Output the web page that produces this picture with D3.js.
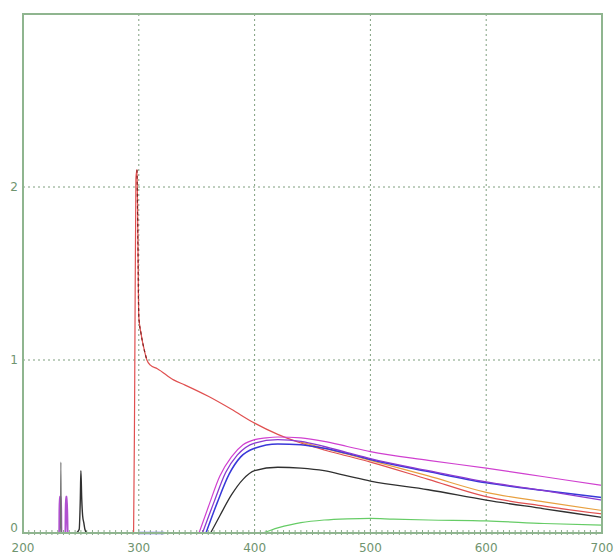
<!DOCTYPE html>
<html>
<head>
<meta charset="utf-8">
<script src="https://cdn.jsdelivr.net/npm/d3@7"></script>
<style>
  body { margin: 0; background: #fff; }
  text { font-family: "DejaVu Sans", sans-serif; }
</style>
</head>
<body>
<script>
// wavelength (nm) / absorbance
const xTicks = [200, 300, 400, 500, 600, 700];
const yTicks = [0, 1, 2];

const redX = [200, 295.5, 296.5, 297.5, 298.5, 299.2, 300, 302, 305, 307, 310, 316, 330, 340, 360, 380, 400, 420, 440, 460, 480, 500, 550, 600, 650, 700];
const redY = [0, 0, 0.9, 2.05, 2.1, 1.7, 1.25, 1.15, 1.05, 1.0, 0.97, 0.95, 0.885, 0.855, 0.79, 0.715, 0.635, 0.57, 0.52, 0.48, 0.445, 0.41, 0.31, 0.21, 0.155, 0.11];

const darkRedX = [298.5, 299.2, 300, 302, 305, 307];
const darkRedY = [2.1, 1.7, 1.25, 1.15, 1.05, 1.0];

const orangeX = [440, 460, 480, 500, 550, 600, 650, 700];
const orangeY = [0.525, 0.49, 0.455, 0.42, 0.33, 0.235, 0.18, 0.13];

const magentaX = [352, 360, 370, 380, 390, 400, 410, 420, 440, 460, 480, 500, 550, 600, 650, 700];
const magentaY = [0, 0.15, 0.33, 0.44, 0.51, 0.54, 0.55, 0.555, 0.55, 0.53, 0.5, 0.47, 0.42, 0.375, 0.325, 0.275];

const purpleX = [355, 365, 375, 385, 400, 420, 440, 460, 480, 500, 550, 600, 650, 700];
const purpleY = [0, 0.18, 0.35, 0.45, 0.52, 0.54, 0.53, 0.5, 0.465, 0.43, 0.36, 0.295, 0.245, 0.19];

const blueX = [358, 368, 378, 388, 400, 420, 440, 460, 480, 500, 550, 600, 650, 700];
const blueY = [0, 0.18, 0.34, 0.44, 0.49, 0.515, 0.51, 0.49, 0.46, 0.425, 0.355, 0.29, 0.245, 0.205];

const blackX = [362, 370, 380, 390, 400, 420, 440, 460, 480, 500, 550, 600, 650, 700];
const blackY = [0, 0.1, 0.22, 0.31, 0.36, 0.38, 0.375, 0.36, 0.33, 0.3, 0.25, 0.19, 0.14, 0.09];

const greenX = [200, 405, 420, 440, 460, 480, 500, 520, 550, 600, 650, 700];
const greenY = [0, 0, 0.03, 0.06, 0.075, 0.082, 0.085, 0.08, 0.075, 0.07, 0.055, 0.045];

const blueBaseX = [300, 322];
const blueBaseY = [0, 0];

const violetPeakX = [229, 231.3, 231.6, 232.8, 233.2, 236.6, 237, 238, 238.5];
const violetPeakY = [0, 0, 0.21, 0.21, 0, 0, 0.21, 0.21, 0];

const grayPeakX = [231, 232.3, 232.7, 233.1, 234];
const grayPeakY = [0, 0, 0.41, 0, 0];

const blackPeakX = [246, 248.5, 249.5, 250, 250.7, 251.5, 252.5, 253.5, 255];
const blackPeakY = [0, 0.02, 0.2, 0.36, 0.2, 0.1, 0.06, 0.02, 0];

const series = [
  { xs: greenX, ys: greenY, color: '#66cc66', w: 1.2 },
  { xs: blueBaseX, ys: blueBaseY, color: '#6a6ae0', w: 2.5 },
  { xs: violetPeakX, ys: violetPeakY, color: '#b050d0', w: 2 },
  { xs: grayPeakX, ys: grayPeakY, color: '#707070', w: 1.2 },
  { xs: blackPeakX, ys: blackPeakY, color: '#303030', w: 1.4 },
  { xs: blackX, ys: blackY, color: '#303030', w: 1.3 },
  { xs: orangeX, ys: orangeY, color: '#e8a040', w: 1.2 },
  { xs: redX, ys: redY, color: '#e05050', w: 1.2 },
  { xs: darkRedX, ys: darkRedY, color: '#802020', w: 1.2, dash: '3,3' },
  { xs: blueX, ys: blueY, color: '#3838d8', w: 1.5 },
  { xs: purpleX, ys: purpleY, color: '#8a3ad0', w: 1.3 },
  { xs: magentaX, ys: magentaY, color: '#d040d0', w: 1.2 }
];

const width = 615;
const height = 556;
const margin = { top: 14, right: 13, bottom: 23, left: 23 };

const svg = d3.select('body').append('svg')
    .attr('width', width)
    .attr('height', height);

const x = d3.scaleLinear().domain([200, 700]).range([margin.left, width - margin.right]);
const y = d3.scaleLinear().domain([0, 3]).range([height - margin.bottom, margin.top]);

const gridColor = '#7f9f7f';

// gridlines
svg.append('g').selectAll('line')
    .data(xTicks.slice(1, -1))
  .enter().append('line')
    .attr('x1', d => x(d)).attr('x2', d => x(d))
    .attr('y1', y(3)).attr('y2', y(0))
    .attr('stroke', gridColor).attr('stroke-width', 1).attr('stroke-dasharray', '2,3');

svg.append('g').selectAll('line')
    .data(yTicks.slice(1))
  .enter().append('line')
    .attr('x1', x(200)).attr('x2', x(700))
    .attr('y1', d => y(d)).attr('y2', d => y(d))
    .attr('stroke', gridColor).attr('stroke-width', 1).attr('stroke-dasharray', '2,3');

// minor ticks along baseline
svg.append('g').selectAll('line')
    .data(d3.range(205, 700, 5))
  .enter().append('line')
    .attr('x1', d => x(d)).attr('x2', d => x(d))
    .attr('y1', y(0) - 3).attr('y2', y(0) + 2)
    .attr('stroke', '#8aa88a').attr('stroke-width', 1);

const line = d3.line()
    .curve(d3.curveMonotoneX)
    .x(d => x(d[0]))
    .y(d => y(d[1]));

series.forEach(s => {
  svg.append('path')
      .datum(d3.zip(s.xs, s.ys))
      .attr('d', line)
      .attr('fill', 'none')
      .attr('stroke', s.color)
      .attr('stroke-width', s.w)
      .attr('stroke-dasharray', s.dash || null)
      .attr('stroke-linejoin', 'round');
});

// frame
svg.append('rect')
    .attr('x', x(200)).attr('y', y(3))
    .attr('width', x(700) - x(200)).attr('height', y(0) - y(3))
    .attr('fill', 'none')
    .attr('stroke', '#8fb58f').attr('stroke-width', 2);

// labels
svg.append('g').selectAll('text')
    .data(xTicks)
  .enter().append('text')
    .attr('x', d => x(d))
    .attr('y', y(0) + 19)
    .attr('text-anchor', 'middle')
    .attr('font-size', 12)
    .attr('fill', '#6f946f')
    .text(d => d);

svg.append('g').selectAll('text')
    .data(yTicks)
  .enter().append('text')
    .attr('x', x(200) - 5)
    .attr('y', d => y(d) + (d === 0 ? -1 : 4))
    .attr('text-anchor', 'end')
    .attr('font-size', 12)
    .attr('fill', '#6f946f')
    .text(d => d);
</script>
</body>
</html>
